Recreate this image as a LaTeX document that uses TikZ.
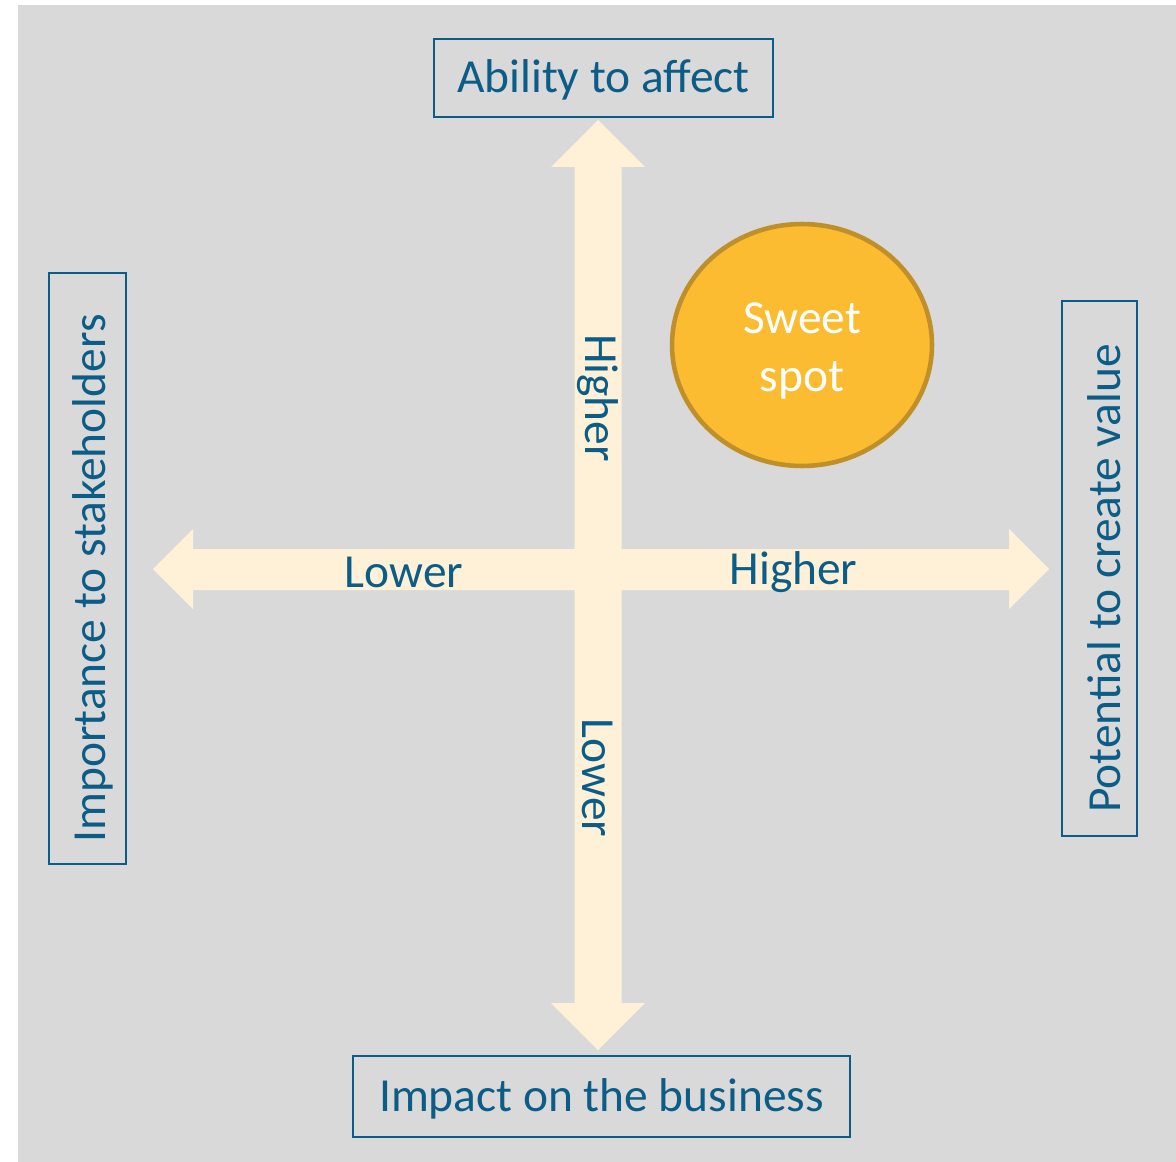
\documentclass[tikz,border=0pt]{standalone}
\usepackage{fontspec}
\setmainfont{Carlito}
\usepackage{tikz}
\usetikzlibrary{shapes.geometric}

\definecolor{backgray}{HTML}{D9D9D9}
\definecolor{arrowfill}{HTML}{FFF1D7}
\definecolor{textblue}{HTML}{0B5D87}
\definecolor{spotfill}{HTML}{FBBC32}
\definecolor{spotline}{HTML}{BF9029}

\tikzset{
    axisbox/.style = {draw = textblue, line width = 1.2pt, text = textblue, inner sep = 0pt,
                      text height = 21.9pt, text depth = 5.4pt},
    axislabel/.style = {text = textblue, inner sep = 0pt},
}

\begin{document}
\begin{tikzpicture}[x = 0.02cm, y = -0.02cm, font = \fontsize{27}{33}\selectfont]
                \useasboundingbox (0, 0) rectangle (1176, 1162);
                \fill[backgray] (18, 5) rectangle (1176, 1162);

                % vertical axis
                \fill[arrowfill]
                (598, 120) -- ++(47, 47) -- ++(-23.5, 0)
                    -- (621.5, 1003) -- ++(23.5, 0) -- (598, 1050)
                    -- (551, 1003) -- ++(23.5, 0)
                    -- (574.5, 167) -- ++(-23.5, 0) -- cycle;

                % horizontal axis
                \fill[arrowfill]
                (153, 569) -- ++(40, -40) -- ++(0, 20)
                    -- (1009, 549) -- ++(0, -20) -- (1049, 569)
                    -- (1009, 609) -- ++(0, -19)
                    -- (193, 590) -- ++(0, 19) -- cycle;

                \node[axisbox, minimum width = 6.78cm, minimum height = 1.56cm] (affect) at (603.5, 78) {Ability to affect};
                \node[axisbox, minimum width = 9.94cm, minimum height = 1.62cm] (impact) at (601.5, 1096.5) {Impact on the business};
                \node[axisbox, rotate = 90, minimum width = 11.82cm, minimum height = 1.54cm,
                      text height = 25.6pt] (importance) at (87.5, 568.5) {Importance to stakeholders\kern0.4cm};
                \node[axisbox, rotate = 90, minimum width = 10.7cm, minimum height = 1.5cm,
                      text height = 24.3pt, text depth = 0pt] (potential) at (1099.5, 568.5) {Potential to create value\kern0.4cm};

                \node[axislabel, rotate = -90] (vhigher) at (598, 398) {Higher};
                \node[axislabel, rotate = -90] (vlower) at (598, 778) {Lower};
                \node[axislabel] (hlower) at (404, 572) {Lower};
                \node[axislabel] (hhigher) at (793.5, 572) {Higher};

                % sweet spot
                \node[ellipse, fill = spotfill, draw = spotline, line width = 2.6pt,
                      minimum width = 5.2cm, minimum height = 4.84cm] (sweet) at (802, 345) {};
                \node[text = white, align = center, inner sep = 0pt] (sweettext) at ([yshift = -0.12cm]sweet.center) {Sweet\\spot};
\end{tikzpicture}
\end{document}
